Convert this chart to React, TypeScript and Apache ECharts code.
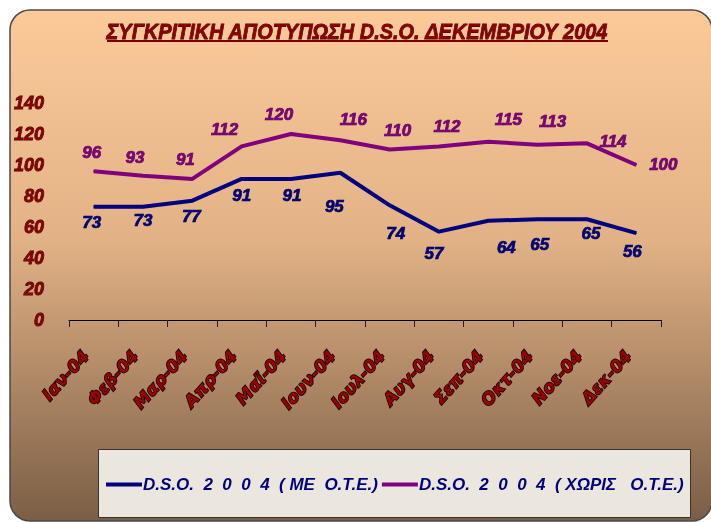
import React, { useEffect, useRef } from "react";
import * as echarts from "echarts";

const categories = ["Ιαν-04", "Φεβ-04", "Μαρ-04", "Απρ-04", "Μαϊ-04", "Ιουν-04", "Ιουλ-04", "Αυγ-04", "Σεπ-04", "Οκτ-04", "Νοε-04", "Δεκ-04"];
const withOTE = [73, 73, 77, 91, 91, 95, 74, 57, 64, 65, 65, 56];
const withoutOTE = [96, 93, 91, 112, 120, 116, 110, 112, 115, 113, 114, 100];
const seriesNames = ["D.S.O.  2  0  0  4  ( ME  O.T.E.)", "D.S.O.  2  0  0  4  ( ΧΩΡΙΣ   O.T.E.)"];
const titleText = "ΣΥΓΚΡΙΤΙΚΗ ΑΠΟΤΥΠΩΣΗ D.S.O. ΔΕΚΕΜΒΡΙΟΥ 2004";

// label placement offsets (dx, dy) from each point
const blueLabelOffsets = [[-2, 16], [0, 14], [-1, 16], [0, 17], [1, 17], [-6, 34], [6, 28], [-5, 22], [18, 27], [2, 25], [4, 14], [-4, 18]];
const purpleLabelOffsets = [[-2, -19], [-8, -18], [-7, -19], [-17, -17], [-12, -20], [13, -21], [8, -19], [8, -20], [20, -22], [15, -23], [26, -2], [27, -1]];

export default function App() {
  const ref = useRef<HTMLDivElement>(null);
  useEffect(() => {
    if (!ref.current) return;
    const chart = echarts.init(ref.current, null, { renderer: "svg" });
    const labelFont = { fontFamily: "Liberation Sans, Arial, sans-serif", fontWeight: "bold", fontStyle: "italic", fontSize: 17 };
    const mk = (vals: number[], offs: number[][], color: string, border: string) =>
      vals.map((v, i) => ({
        value: v,
        label: { show: true, position: "inside", offset: offs[i], color, textBorderColor: border, textBorderWidth: 0.7, ...labelFont },
      }));
    chart.setOption({
      animation: false,
      graphic: [
        {
          type: "rect",
          z: -10,
          shape: { x: 10, y: 10, width: 702, height: 511, r: 20 },
          style: {
            fill: new echarts.graphic.LinearGradient(0, 0, 0, 1, [
              { offset: 0, color: "#FCCA99" },
              { offset: 0.45, color: "#E2B286" },
              { offset: 1, color: "#7A5E45" },
            ]),
            stroke: "#4a4a4a",
            lineWidth: 1.5,
          },
        },
        {
          type: "text",
          x: 357,
          y: 31,
          scaleX: 0.907,
          style: {
            text: titleText,
            align: "center",
            verticalAlign: "middle",
            fill: "#8B0000",
            stroke: "#4a0000",
            lineWidth: 0.8,
            textShadowColor: "#5a0000",
            textShadowOffsetX: 1,
            textShadowOffsetY: 1,
            textShadowBlur: 0,
            fontFamily: "Liberation Sans, Arial, sans-serif",
            fontWeight: "bold",
            fontStyle: "italic",
            fontSize: 22,
          },
        },
        { type: "line", shape: { x1: 107, y1: 41, x2: 608, y2: 41 }, style: { stroke: "#7a0000", lineWidth: 2 } },
        {
          type: "rect",
          z: -5,
          shape: { x: 98.5, y: 449.5, width: 592, height: 68 },
          style: { fill: "#ECE7DE", stroke: "#333333", lineWidth: 1 },
        },
      ],
      legend: {
        left: 101,
        top: 471,
        itemWidth: 36,
        itemHeight: 4,
        itemGap: 4,
        icon: "rect",
        textStyle: { color: "#000080", fontFamily: "Liberation Sans, Arial, sans-serif", fontWeight: "bold", fontStyle: "italic", fontSize: 17, padding: [0, 0, 0, -4] },
        data: seriesNames,
      },
      grid: { left: 69, right: 50, top: 103, bottom: 202 },
      xAxis: {
        type: "category",
        data: categories,
        boundaryGap: true,
        axisLine: { lineStyle: { color: "#000", width: 1 } },
        axisTick: { show: true, length: 7, inside: false, alignWithLabel: false, lineStyle: { color: "#222" } },
        axisLabel: {
          rotate: 48,
          margin: 24,
          interval: 0,
          padding: [0, 12, 0, 0],
          color: "#990000",
          textBorderColor: "#1a0000",
          textBorderWidth: 1.6,
          fontFamily: "DejaVu Sans, sans-serif",
          fontWeight: "bold",
          fontStyle: "italic",
          fontSize: 17,
        },
      },
      yAxis: {
        type: "value",
        min: 0,
        max: 140,
        interval: 20,
        splitLine: { show: false },
        axisLine: { show: false },
        axisTick: { show: false },
        axisLabel: {
          margin: 25,
          color: "#8B0000",
          textBorderColor: "#3a0000",
          textBorderWidth: 0.8,
          fontFamily: "Liberation Sans, Arial, sans-serif",
          fontWeight: "bold",
          fontStyle: "italic",
          fontSize: 18,
        },
      },
      series: [
        {
          name: seriesNames[0],
          type: "line",
          data: mk(withOTE, blueLabelOffsets, "#000080", "#00003a"),
          symbol: "circle",
          symbolSize: 1,
          showSymbol: true,
          lineStyle: { color: "#000080", width: 4 },
          itemStyle: { color: "#000080" },
        },
        {
          name: seriesNames[1],
          type: "line",
          data: mk(withoutOTE, purpleLabelOffsets, "#800080", "#3a003a"),
          symbol: "circle",
          symbolSize: 1,
          showSymbol: true,
          lineStyle: { color: "#800080", width: 4 },
          itemStyle: { color: "#800080" },
        },
      ],
    });
    return () => chart.dispose();
  }, []);
  return <div ref={ref} style={{ position: "fixed", left: 0, top: 0, width: 711, height: 522 }} />;
}
